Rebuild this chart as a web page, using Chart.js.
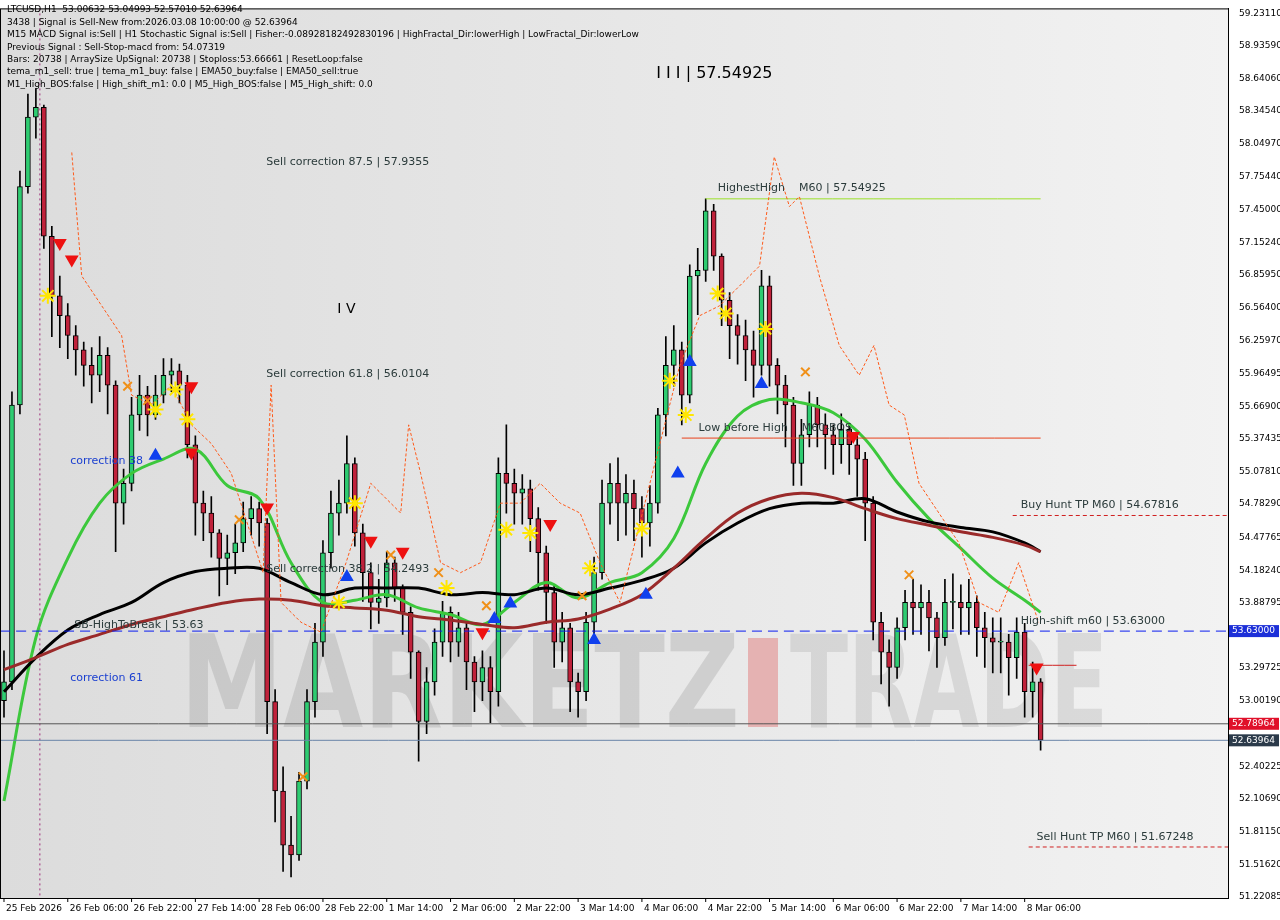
<!DOCTYPE html>
<html>
<head>
<meta charset="utf-8">
<script src="https://cdn.jsdelivr.net/npm/chart.js@4"></script>
<style>
  body { margin: 0; background: #fff; }
  #wrap { width: 1280px; height: 920px; }
</style>
</head>
<body>
<div id="wrap"><canvas id="chart" width="1280" height="920"></canvas></div>
<script>
// H1 LTCUSD, read in 2-hour steps (one value per 2 bars)
const closes = [53.17,55.68,57.66,58.29,58.38,57.21,56.67,56.49,56.31,56.18,56.04,55.95,56.13,55.86,54.79,54.97,55.59,55.77,55.59,55.77,
  55.95,55.99,55.86,55.32,54.79,54.70,54.52,54.29,54.34,54.43,54.65,54.74,54.61,52.99,52.18,51.69,51.60,52.27,52.99,53.53,
  54.34,54.70,54.79,55.15,54.52,54.16,53.89,53.93,54.25,54.02,53.80,53.44,52.81,53.17,53.53,53.80,53.53,53.66,53.35,53.17,
  53.30,53.08,55.06,54.97,54.88,54.92,54.65,54.34,53.98,53.53,53.66,53.17,53.08,53.71,54.16,54.79,54.97,54.79,54.88,54.74,
  54.61,54.79,55.59,56.04,56.18,55.77,56.85,56.90,57.44,57.03,56.63,56.40,56.31,56.18,56.04,56.76,56.04,55.86,55.68,55.15,
  55.41,55.68,55.50,55.41,55.32,55.46,55.32,55.19,54.79,53.71,53.44,53.30,53.66,53.89,53.84,53.89,53.75,53.57,53.89,53.89,
  53.84,53.89,53.66,53.57,53.53,53.53,53.39,53.62,53.08,53.17,52.64];
const highs = [53.45,55.80,57.80,58.50,58.55,58.40,57.30,56.85,56.60,56.40,56.25,56.20,56.30,56.20,55.90,55.10,55.75,55.95,55.85,55.95,
  56.10,56.10,56.05,55.95,55.40,54.90,54.85,54.55,54.50,54.60,54.80,54.85,54.80,54.65,53.10,52.40,51.95,52.35,53.10,53.70,
  54.45,54.90,55.00,55.40,55.20,54.60,54.25,54.10,54.35,54.30,54.05,53.85,53.45,53.30,53.65,53.90,53.85,53.80,53.70,53.40,
  53.45,53.40,55.20,55.50,55.10,55.05,55.00,54.75,54.40,54.05,53.80,53.70,53.25,53.80,54.30,55.00,55.15,55.20,55.05,55.00,
  54.85,54.95,55.65,56.30,56.40,56.25,56.95,57.10,57.55,57.50,57.05,56.70,56.50,56.45,56.35,56.90,56.85,56.10,55.95,55.75,
  55.55,55.80,55.75,55.60,55.50,55.60,55.50,55.40,55.25,54.85,53.80,53.55,53.75,54.00,54.10,54.05,54.00,53.80,54.10,54.15,
  54.05,54.10,53.95,53.80,53.75,53.75,53.60,53.75,53.70,53.35,53.20];
const lows = [52.85,53.10,55.60,57.60,58.10,57.10,56.30,56.20,56.10,55.95,55.85,55.70,55.80,55.60,54.35,54.60,54.90,55.45,55.40,55.55,
  55.70,55.80,55.70,55.20,54.50,54.45,54.30,53.95,54.05,54.15,54.35,54.50,54.40,52.70,51.90,51.45,51.40,51.55,52.20,52.85,
  53.40,54.20,54.50,54.70,54.40,53.90,53.65,53.70,53.85,53.90,53.60,53.20,52.45,52.70,53.05,53.40,53.35,53.40,53.10,52.90,
  53.00,52.80,52.95,54.70,54.60,54.60,54.35,54.00,53.70,53.30,53.35,52.90,52.85,53.00,53.60,54.10,54.60,54.45,54.50,54.45,
  54.30,54.40,54.70,55.40,55.85,55.50,55.70,56.50,56.80,56.90,56.40,56.10,56.05,55.90,55.75,55.95,55.85,55.60,55.30,54.95,
  54.95,55.30,55.30,55.10,55.05,55.15,55.05,54.85,54.45,53.55,53.15,52.95,53.20,53.55,53.60,53.60,53.45,53.30,53.50,53.65,
  53.60,53.60,53.40,53.30,53.25,53.25,53.05,53.20,52.85,52.85,52.55];
const firstOpen = 53.00;

// moving averages, read every 4th step
const maIdx = [0,4,8,12,16,20,24,28,32,36,40,44,48,52,56,60,64,68,72,76,80,84,88,92,96,100,104,108,112,116,120,124,128,130];
const emaGreen = [52.09,53.57,54.29,54.79,55.06,55.19,55.28,54.95,54.83,54.25,53.89,53.91,53.96,53.84,53.78,53.69,53.89,54.07,53.93,54.07,
  54.16,54.47,55.15,55.58,55.73,55.70,55.61,55.37,54.98,54.65,54.38,54.11,53.91,53.80];
const maBlack = [53.08,53.39,53.64,53.78,53.89,54.07,54.17,54.20,54.20,54.07,53.96,54.02,54.02,54.02,53.96,53.98,53.96,54.02,53.96,54.02,
  54.09,54.20,54.43,54.61,54.74,54.79,54.79,54.83,54.71,54.62,54.57,54.53,54.43,54.35];
const maBrown = [53.28,53.39,53.51,53.60,53.69,53.76,53.83,53.89,53.92,53.91,53.86,53.84,53.82,53.76,53.73,53.69,53.66,53.71,53.74,53.83,
  53.96,54.20,54.47,54.70,54.83,54.88,54.84,54.74,54.65,54.59,54.53,54.48,54.41,54.35];

// orange dotted fractal line, sparse readings
const fracIdx = [8.5,9.75,12.25,14.75,16,18.5,21,23.5,26,28.5,32.5,33.5,34.75,37.25,39.75,42.9,46,47.25,49.75,50.75,52.25,54.75,57.25,
  59.75,62.25,64.75,67.25,69.75,72.25,74.75,77.25,79.75,82.25,84.75,87.25,89.75,94.75,96.6,98.5,99.75,102.25,104.75,107.25,109.1,
  111,112.9,114.75,117.25,119.75,122.25,124.75,127.25,129.75];
const fracVals = [57.97,56.85,56.58,56.31,55.77,55.68,55.86,55.50,55.33,55.06,54.16,55.86,53.89,53.71,53.62,54.25,54.97,54.88,54.70,55.50,
  55.06,54.25,54.16,54.25,54.79,54.79,54.97,54.79,54.70,54.25,53.89,54.61,55.33,56.04,56.49,56.58,56.94,57.93,57.48,57.57,56.85,56.22,
  55.95,56.22,55.68,55.59,54.97,54.70,54.43,53.89,53.80,54.25,53.71];

const starPts = [[5.5,56.67],[19,55.64],[21.5,55.82],[23,55.55],[44,54.79],[42,53.89],[55.5,54.02],[63,54.55],[66,54.52],
  [73.5,54.20],[80,54.56],[83.5,55.90],[85.5,55.59],[89.5,56.69],[90.5,56.51],[95.5,56.37]];
const downArrows = [[7,57.15],[8.5,57.00],[23.5,55.85],[23.5,55.25],[33,54.75],[46,54.45],[50,54.35],[60,53.62],[68.5,54.60],[106.5,55.40],[129.5,53.30]];
const upArrows = [[19,55.22],[43,54.12],[61.5,53.74],[63.5,53.88],[74,53.55],[80.5,53.96],[84.5,55.06],[86,56.07],[95,55.87]];
const crossPts = [[15.5,55.85],[18,55.72],[29.5,54.64],[48.5,54.32],[54.5,54.16],[60.5,53.86],[72.5,53.95],[100.5,55.98],[113.5,54.14],[37.5,52.31]];

const xTickLabels = ["25 Feb 2026","26 Feb 06:00","26 Feb 22:00","27 Feb 14:00","28 Feb 06:00","28 Feb 22:00","1 Mar 14:00","2 Mar 06:00",
  "2 Mar 22:00","3 Mar 14:00","4 Mar 06:00","4 Mar 22:00","5 Mar 14:00","6 Mar 06:00","6 Mar 22:00","7 Mar 14:00","8 Mar 06:00"];
const yTicks = [59.23110,58.93590,58.64060,58.34540,58.04970,57.75440,57.45000,57.15240,56.85950,56.56400,56.25970,55.96495,55.66900,
  55.37435,55.07810,54.78290,54.47765,54.18240,53.88795,53.29725,53.00190,52.40225,52.10690,51.81150,51.51620,51.22085];

const infoLines = [
  "LTCUSD,H1  53.00632 53.04993 52.57010 52.63964",
  "3438 | Signal is Sell-New from:2026.03.08 10:00:00 @ 52.63964",
  "M15 MACD Signal is:Sell | H1 Stochastic Signal is:Sell | Fisher:-0.08928182492830196 | HighFractal_Dir:lowerHigh | LowFractal_Dir:lowerLow",
  "Previous Signal : Sell-Stop-macd from: 54.07319",
  "Bars: 20738 | ArraySize UpSignal: 20738 | Stoploss:53.66661 | ResetLoop:false",
  "tema_m1_sell: true | tema_m1_buy: false | EMA50_buy:false | EMA50_sell:true",
  "M1_High_BOS:false | High_shift_m1: 0.0 | M5_High_BOS:false | M5_High_shift: 0.0"
];

const opens = closes.map((c, i) => i === 0 ? firstOpen : closes[i - 1]);
const wicks = closes.map((c, i) => ({ x: i, y: [lows[i], highs[i]] }));
const bodies = closes.map((c, i) => ({ x: i, y: [opens[i], c] }));
const bodyColors = closes.map((c, i) => c >= opens[i] ? "#2ecc71" : "#c0223b");
const maLine = arr => maIdx.map((k, i) => ({ x: k, y: arr[i] }));
const pts = arr => arr.map(p => ({ x: p[0], y: p[1] }));
const hline = (x0, x1, v) => [{ x: x0, y: v }, { x: x1, y: v }];

const overlay = {
  id: "overlay",
  beforeDraw(chart) {
    const { ctx, chartArea: a, scales: { x, y } } = chart;
    ctx.save();
    const g = ctx.createLinearGradient(a.left, 0, a.right, 0);
    g.addColorStop(0, "#dcdcdc"); g.addColorStop(0.6, "#e9e9e9"); g.addColorStop(1, "#f2f2f2");
    ctx.fillStyle = g;
    ctx.fillRect(a.left, a.top, a.right - a.left, a.bottom - a.top);
    // watermark
    ctx.textBaseline = "alphabetic";
    ctx.font = "bold 128px 'DejaVu Sans'";
    ctx.fillStyle = "rgba(150,150,150,0.3)";
    ctx.fillText("MARKETZ", 180, 727, 560);
    ctx.fillStyle = "rgba(225,110,110,0.45)";
    ctx.fillRect(748, 638, 30, 89);
    ctx.fillStyle = "rgba(150,150,150,0.25)";
    ctx.fillText("TRADE", 790, 727, 318);
    // vertical dotted line
    ctx.strokeStyle = "#a0307a"; ctx.setLineDash([2, 3]); ctx.lineWidth = 1;
    ctx.beginPath(); ctx.moveTo(x.getPixelForValue(4.5), a.top); ctx.lineTo(x.getPixelForValue(4.5), a.bottom); ctx.stroke();
    ctx.setLineDash([]);
    ctx.restore();
  },
  afterDraw(chart) {
    const { ctx, chartArea: a, scales: { x, y } } = chart;
    ctx.save();
    ctx.strokeStyle = "#000"; ctx.lineWidth = 1;
    ctx.strokeRect(a.left + 0.5, a.top + 0.5, a.right - a.left, a.bottom - a.top);
    // info text
    ctx.fillStyle = "#000"; ctx.font = "9px 'DejaVu Sans'"; ctx.textBaseline = "middle";
    infoLines.forEach((t, i) => ctx.fillText(t, 7, 10 + i * 12.4));
    // annotations
    const label = (t, k, v, col, font) => {
      ctx.fillStyle = col; ctx.font = font || "11px 'DejaVu Sans'";
      ctx.fillText(t, x.getPixelForValue(k), y.getPixelForValue(v));
    };
    const dk = "#2b3b3b";
    label("Sell correction 87.5 | 57.9355", 32.9, 57.88, dk);
    label("Sell correction 61.8 | 56.0104", 32.9, 55.96, dk);
    label("Sell correction 38.2 | 54.2493", 32.9, 54.19, dk);
    label("correction 38", 8.3, 55.17, "#1a3fd0");
    label("correction 61", 8.3, 53.20, "#1a3fd0");
    label("SB-HighToBreak | 53.63", 8.8, 53.68, dk);
    label("I V", 41.8, 56.55, "#000", "14px 'DejaVu Sans'");
    label("I I I | 57.54925", 81.8, 58.68, "#000", "16px 'DejaVu Sans'");
    label("HighestHigh    M60 | 57.54925", 89.5, 57.65, dk);
    label("Low before High    M60-BOS", 87.1, 55.47, dk);
    label("Buy Hunt TP M60 | 54.67816", 127.5, 54.77, dk);
    label("High-shift m60 | 53.63000", 127.5, 53.72, dk);
    label("Sell Hunt TP M60 | 51.67248", 129.5, 51.76, dk);
    // x tick labels
    ctx.fillStyle = "#000"; ctx.font = "9px 'DejaVu Sans'";
    xTickLabels.forEach((t, i) => {
      const px = x.getPixelForValue(i * 8);
      ctx.beginPath(); ctx.moveTo(px, a.bottom); ctx.lineTo(px, a.bottom + 4); ctx.stroke();
      ctx.fillText(t, px + 2, a.bottom + 11);
    });
    // price boxes on right axis
    const box = (v, bg, fg) => {
      const py = y.getPixelForValue(v);
      ctx.fillStyle = bg; ctx.fillRect(a.right + 1, py - 6, 50, 12);
      ctx.fillStyle = fg; ctx.font = "9px 'DejaVu Sans'";
      ctx.fillText(v.toFixed(5), a.right + 4, py);
    };
    box(53.63, "#1c2fd8", "#fff");
    box(52.78964, "#e0102a", "#fff");
    box(52.63964, "#2b3a4a", "#fff");
    ctx.restore();
  }
};

const lineDs = (data, color, width, dash, tension) => ({
  type: "line", data, borderColor: color, borderWidth: width, borderDash: dash || [],
  pointRadius: 0, tension: tension === undefined ? 0.35 : tension, order: 1
});
const markDs = (data, style, color, size, rot) => ({
  type: "scatter", data, pointStyle: style, pointRadius: size, rotation: rot || 0,
  backgroundColor: color, borderColor: color, borderWidth: 2, order: 0
});

new Chart(document.getElementById("chart"), {
  type: "bar",
  data: {
    datasets: [
      lineDs(fracIdx.map((k, i) => ({ x: k, y: fracVals[i] })), "#ff5a1a", 1, [3, 2], 0),
      lineDs(hline(-0.5, 153.5, 53.63), "#0a1cf0", 1, [10, 6]),
      lineDs(hline(-0.5, 153.5, 52.78964), "#555", 1),
      lineDs(hline(-0.5, 153.5, 52.63964), "#6a85a8", 1),
      lineDs(hline(88, 130, 57.54925), "#9be02a", 1),
      lineDs(hline(85, 130, 55.38), "#e8401a", 1),
      lineDs(hline(126.5, 153.5, 54.67816), "#d02020", 1, [4, 3]),
      lineDs(hline(128.5, 153.5, 51.67248), "#d02020", 1, [4, 3]),
      lineDs(hline(128.5, 134.5, 53.32), "#d02020", 1),
      lineDs(maLine(maBrown), "#9a2a2a", 3),
      lineDs(maLine(maBlack), "#000", 3),
      lineDs(maLine(emaGreen), "#3cc83c", 3),
      { type: "bar", data: wicks, backgroundColor: "#000", barThickness: 1, grouped: false, order: 3 },
      { type: "bar", data: bodies, backgroundColor: bodyColors, borderColor: "#000", borderWidth: 1,
        borderSkipped: false, barThickness: 5, grouped: false, minBarLength: 1, order: 2 },
      markDs(pts(starPts), "star", "#ffe600", 8),
      markDs(pts(crossPts), "crossRot", "#f09018", 6),
      markDs(pts(downArrows), "triangle", "#ee1111", 6, 180),
      markDs(pts(upArrows), "triangle", "#1040ee", 6)
    ]
  },
  options: {
    responsive: false,
    animation: false,
    layout: { autoPadding: false, padding: { top: 0, bottom: 22, left: 0, right: 0 } },
    plugins: { legend: { display: false }, tooltip: { enabled: false } },
    scales: {
      x: { type: "linear", min: -0.5, max: 153.5, offset: false, bounds: "ticks", display: false },
      y: {
        position: "right", min: 51.21, max: 59.276,
        grid: { display: false },
        border: { color: "#000" },
        afterBuildTicks: ax => { ax.ticks = yTicks.map(v => ({ value: v })); },
        afterFit: ax => { ax.width = 52; },
        ticks: { color: "#000", font: { size: 9, family: "DejaVu Sans" }, padding: 3,
          callback: v => v.toFixed(5) }
      }
    }
  },
  plugins: [overlay]
});
</script>
</body>
</html>
